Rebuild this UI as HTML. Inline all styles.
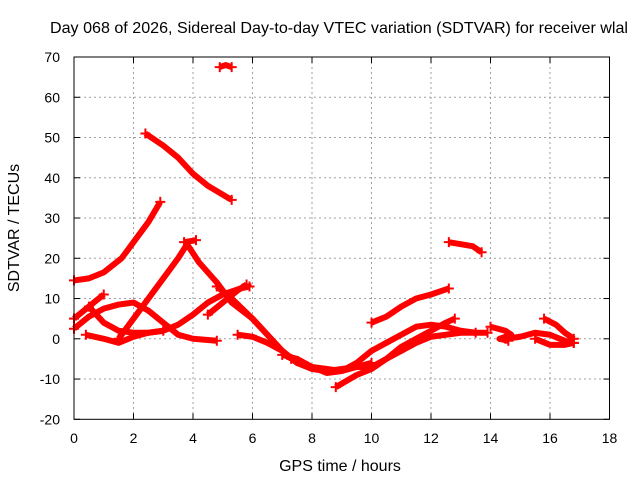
<!DOCTYPE html>
<html><head><meta charset="utf-8"><style>
body{margin:0;background:#fff}
svg text{font-family:"Liberation Sans",sans-serif;font-size:14px;fill:#000}
svg text.big{font-size:16px}
</style></head><body>
<svg width="640" height="480" xmlns="http://www.w3.org/2000/svg">
<rect width="640" height="480" fill="#fff"/>
<g id="grid"></g>
<g id="series"></g>
<g id="axes"></g>
<text class="big" x="339" y="33" text-anchor="middle" textLength="578" lengthAdjust="spacingAndGlyphs">Day 068 of 2026, Sidereal Day-to-day VTEC variation (SDTVAR) for receiver wlal</text>
<text class="big" x="340" y="471" text-anchor="middle">GPS time / hours</text>
<text class="big" x="19" y="228" text-anchor="middle" transform="rotate(-90 19 228)">SDTVAR / TECUs</text>
</svg>
<script>
const xTicks=[0,2,4,6,8,10,12,14,16,18];
const yTicks=[-20,-10,0,10,20,30,40,50,60,70];
const s1=[[0,14.5],[0.5,15],[1,16.5],[1.6,20],[2,24],[2.5,29],[2.9,34]];
const s2=[[2.4,51],[3,48],[3.5,45],[4,41],[4.5,38],[5.3,34.5]];
const s3=[[4.9,67.5],[5.1,68],[5.3,67.5]];
const s4=[[0,2.5],[0.5,5.5],[1,7.5],[1.5,8.5],[2,9],[2.5,7],[3,4],[3.5,1],[4,0],[4.8,-0.5]];
const s5=[[0,5],[0.5,8],[1,11]];
const s6=[[0.4,1],[1,0],[1.5,-1],[2,0.5],[2.5,1.5],[3,2],[3.5,3.5],[4,6],[4.5,9],[5,11],[5.6,12.5],[5.9,13]];
const s7=[[1.5,0],[2,5],[2.5,10],[3,15],[3.5,20],[3.8,23.5],[4.2,19],[4.8,14],[5.3,9],[6,5],[6.5,1],[7,-3],[7.5,-6],[8,-7.5],[8.5,-8],[9,-7.5],[9.5,-7],[10,-7],[10.5,-5],[11,-2],[11.5,0],[12,2],[12.5,4],[12.8,5]];
const s8=[[0.5,8],[1,4],[1.5,2],[2,1.5],[2.5,1.5],[3,2]];
const s9=[[3.7,24],[4.1,24.5]];
const s10=[[4.5,6],[5,9],[5.5,12],[5.8,13.5]];
const s10b=[[4.8,13],[5.3,10],[6,5],[6.5,1],[7,-3],[7.3,-5]];
const s11=[[5.5,1],[6,0.5],[6.5,-1],[7,-3],[7.5,-6],[8,-7],[9,-8],[9.5,-6],[10,-3],[10.5,-1],[11,1],[11.5,3],[12,3.5],[12.5,3],[13,2],[13.5,1.5],[13.9,1.5]];
const s12=[[10,4],[10.5,5.5],[11,8],[11.5,10],[12,11],[12.6,12.5]];
const s13=[[8.8,-12],[9.5,-9],[10,-7.5],[10.5,-5],[11,-3],[11.5,-1],[12,0.5],[12.5,1],[13,1.5],[13.5,1.5]];
const s14=[[12.6,24],[13,23.5],[13.4,23],[13.7,21.5]];
const s15=[[14,3],[14.5,2],[14.7,1],[14.3,0],[14.6,-0.5]];
const s16=[[14.5,0],[15,0.5],[15.5,1.5],[16,1],[16.5,-0.5],[16.8,-1]];
const s17=[[15.8,5],[16.2,3.5],[16.5,1.5],[16.8,0]];
const s18=[[15.5,0],[16,-1.5],[16.5,-1.5],[16.8,-1]];
const s19=[[7,-4],[7.5,-5],[8,-7],[8.5,-8.5],[9,-8],[9.5,-7],[10,-6]];
const allSeries=[s1,s2,s3,s4,s5,s6,s7,s8,s9,s10,s10b,s11,s12,s13,s14,s15,s16,s17,s18,s19];
const X0=74,X1=609.5,Y0=419.3,Y1=57;
const xs=v=>X0+(v-0)/(18-0)*(X1-X0);
const ys=v=>Y0-(v+20)/90*(Y0-Y1);
const NS="http://www.w3.org/2000/svg";
function mk(t,a,p){const e=document.createElementNS(NS,t);for(const k in a)e.setAttribute(k,a[k]);p.appendChild(e);return e;}
const grid=document.getElementById('grid'),axes=document.getElementById('axes'),ser=document.getElementById('series');
xTicks.forEach(t=>{const x=xs(t);
 if(t>0&&t<18){const l=mk('line',{x1:x,x2:x,y1:Y1,y2:Y0,stroke:'#a0a0a0','stroke-dasharray':'2,3'},grid);
 }
 mk('line',{x1:x,x2:x,y1:Y0,y2:Y0-6,stroke:'#000'},axes);mk('line',{x1:x,x2:x,y1:Y1,y2:Y1+6,stroke:'#000'},axes);
 const tx=mk('text',{x:x,y:443,'text-anchor':'middle'},axes);tx.textContent=t;
 });
yTicks.forEach(t=>{const y=ys(t);
 if(t>-20&&t<70){const l=mk('line',{x1:X0,x2:X1,y1:y,y2:y,stroke:'#a0a0a0','stroke-dasharray':'2,3'},grid);
 }
 mk('line',{x1:X0,x2:X0+6,y1:y,y2:y,stroke:'#000'},axes);mk('line',{x1:X1,x2:X1-6,y1:y,y2:y,stroke:'#000'},axes);
 const tx=mk('text',{x:X0-14,y:y+5,'text-anchor':'end'},axes);tx.textContent=t;
 });
mk('rect',{x:X0,y:Y1,width:X1-X0,height:Y0-Y1,fill:'none',stroke:'#000'},axes);
allSeries.forEach(s=>{
 const p=mk('polyline',{points:s.map(d=>xs(d[0])+','+ys(d[1])).join(' '),fill:'none',stroke:'#f00','stroke-width':6,'stroke-linejoin':'round','stroke-linecap':'butt'},ser);
 
 
 const e=s[s.length-1],b=s[0];
 [b,e].forEach(d=>{const x=xs(d[0]),y=ys(d[1]);
  mk('path',{d:`M${x-5},${y}H${x+5}M${x},${y-5}V${y+5}`,stroke:'#f00','stroke-width':2},ser);});
});
</script>
</body></html>
